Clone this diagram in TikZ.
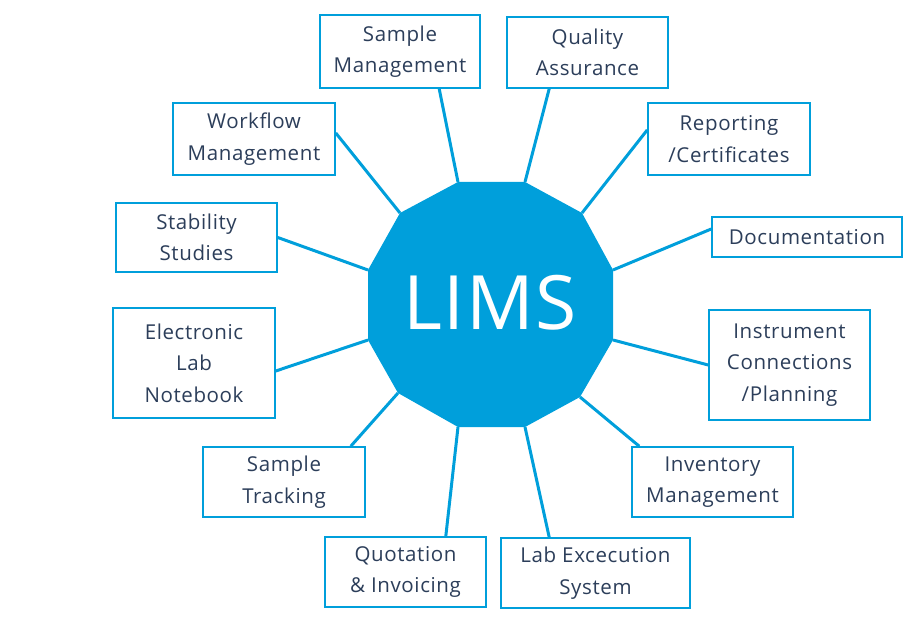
\documentclass[tikz,border=0pt]{standalone}
\usepackage{fontspec}
\setmainfont{Open Sans}[LetterSpace=3]
\newfontfamily\limsfont{Open Sans}[LetterSpace=2]
\definecolor{limsblue}{HTML}{009FDB}
\definecolor{limstext}{HTML}{2C3E5A}
\begin{document}
\begin{tikzpicture}[x=1pt,y=-1pt,font=\fontsize{20.5}{31.5}\selectfont,
  box/.style={draw=limsblue,line width=1.6pt,fill=white,text=limstext,align=center,inner sep=0pt},
  spoke/.style={draw=limsblue,line width=3pt}]

\useasboundingbox (0,0) rectangle (916,620);

% centre polygon
\foreach \p/\x/\y in {1/458/182,2/525/182,3/582/213,4/613/270,5/613/340,6/580/397,
                      7/525/427,8/458/427,9/398/393,10/368/340,11/368/270,12/400/213}
  \coordinate (v\p) at (\x,\y);

% boxes
\node[box,minimum width=160,minimum height=73] (sm) at (400,51.5) {Sample\\Management};
\node[box,minimum width=161,minimum height=71] (qa) at (587.5,52.5) {Quality\\Assurance};
\node[box,minimum width=162,minimum height=72] (wm) at (254,139) {Workflow\\Management};
\node[box,minimum width=162,minimum height=72] (rc) at (729,139) {Reporting\\/Certificates};
\node[box,minimum width=161,minimum height=69] (ss) at (196.5,237.5) {Stability\\Studies};
\node[box,minimum width=190,minimum height=40] (doc) at (807,237) {Documentation};
\node[box,minimum width=162,minimum height=110] (eln) at (194,363) {Electronic\\Lab\\Notebook};
\node[box,minimum width=161,minimum height=110] (ic) at (789.5,365) {Instrument\\Connections\\/Planning};
\node[box,minimum width=162,minimum height=70] (st) at (284,482) {Sample\\Tracking};
\node[box,minimum width=161,minimum height=70] (im) at (712.5,482) {Inventory\\Management};
\node[box,minimum width=161,minimum height=70] (qi) at (405.5,572) {Quotation\\\& Invoicing};
\node[box,minimum width=189,minimum height=70] (le) at (595.5,573) {Lab Excecution\\System};

% spokes
\draw[spoke] ([xshift=120]sm.south west) -- (v1);
\draw[spoke] ([xshift=43]qa.south west) -- (v2);
\draw[spoke] ([yshift=6]wm.east) -- (v12);
\draw[spoke] ([yshift=9]rc.west) -- (v3);
\draw[spoke] (ss.east) -- (v11);
\draw[spoke] ([yshift=8]doc.west) -- (v4);
\draw[spoke] ([yshift=-8]eln.east) -- (v10);
\draw[spoke] (ic.west) -- (v5);
\draw[spoke] ([xshift=-15]st.north east) -- (v9);
\draw[spoke] ([xshift=8]im.north west) -- (v6);
\draw[spoke] ([xshift=-41]qi.north east) -- (v8);
\draw[spoke] ([xshift=49]le.north west) -- (v7);

\fill[limsblue] (v1) \foreach \p in {2,...,12} {-- (v\p)} -- cycle;
\node[text=white,font=\limsfont\fontsize{75}{75}\selectfont] (lims) at (490,303) {LIMS};

\end{tikzpicture}
\end{document}
